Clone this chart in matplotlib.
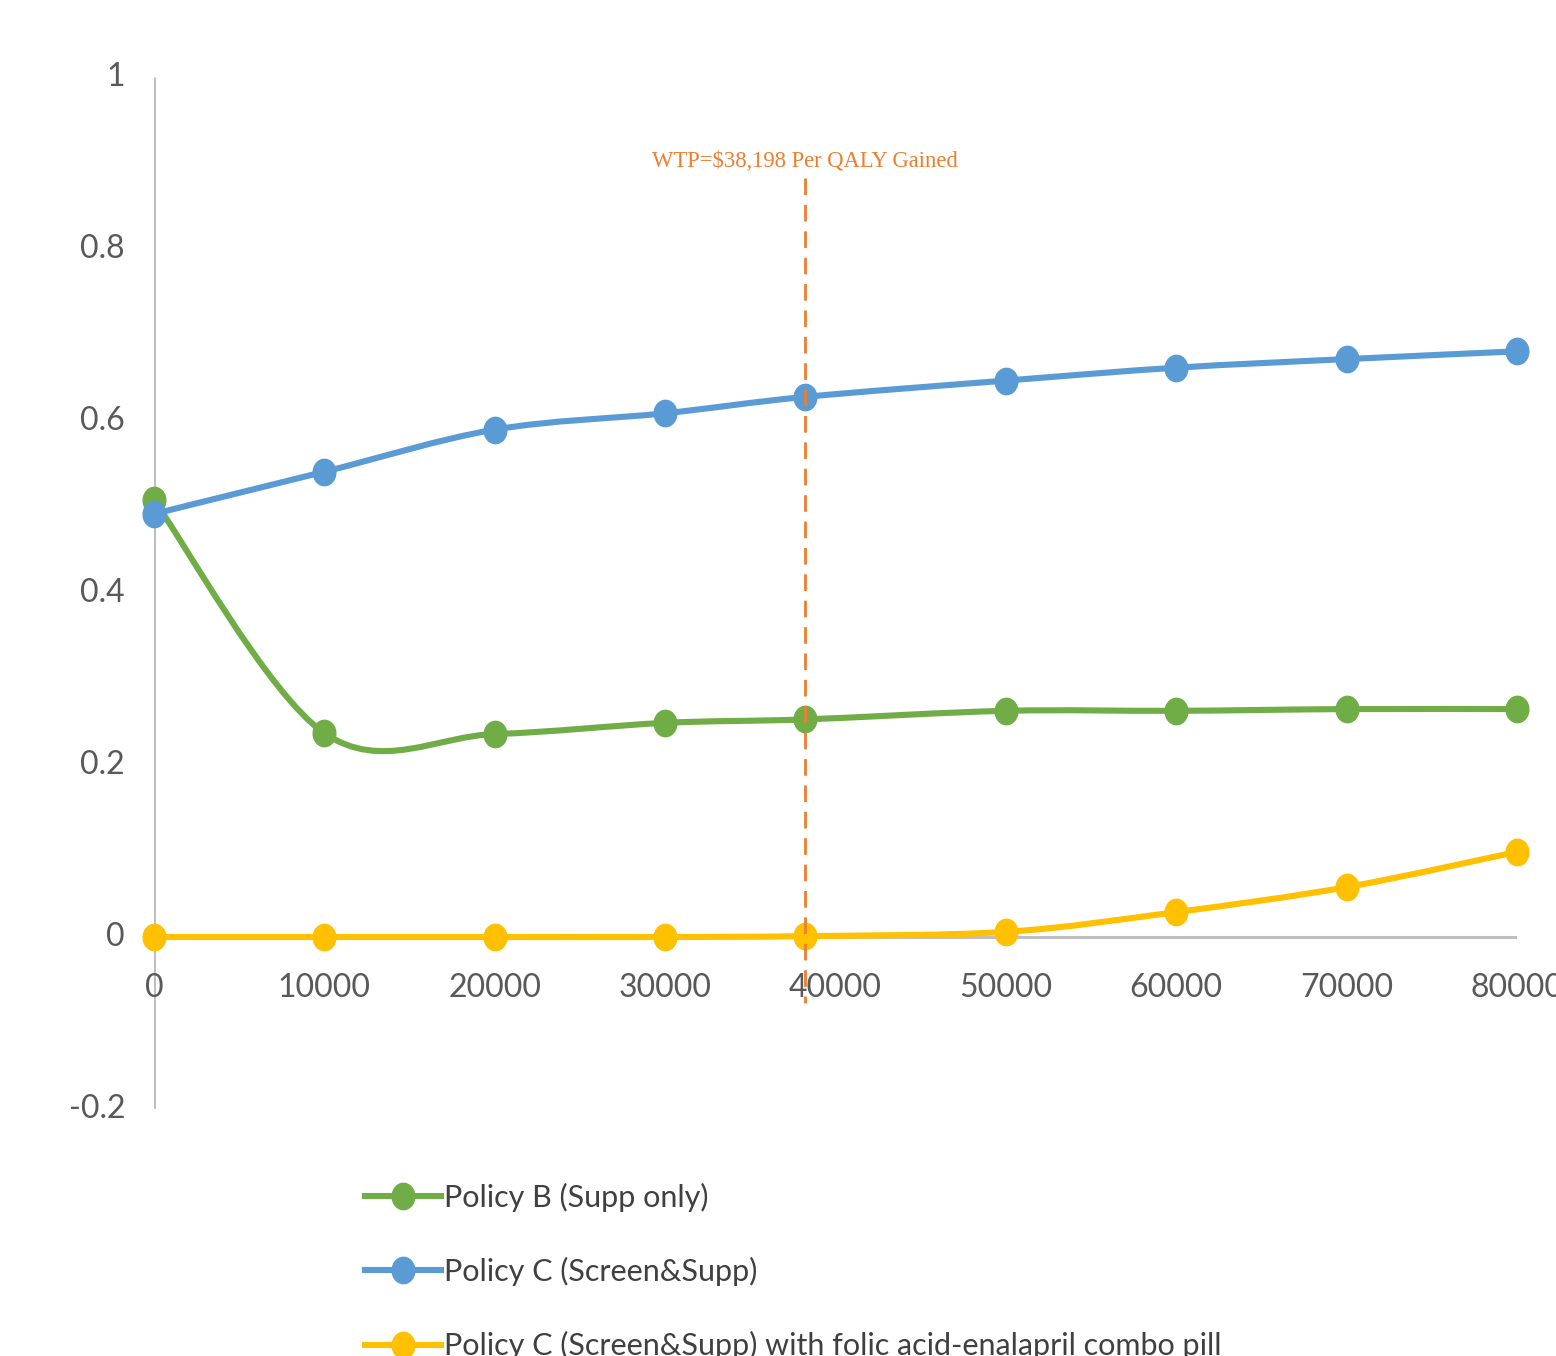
import numpy as np
import matplotlib
matplotlib.use("Agg")
import matplotlib.pyplot as plt
from matplotlib.path import Path
from matplotlib.patches import PathPatch
from matplotlib.lines import Line2D

# willingness-to-pay thresholds ($ per QALY)
wtp = [0, 10000, 20000, 30000, 38198, 50000, 60000, 70000, 80000]
policy_b = [0.508, 0.237, 0.236, 0.249, 0.253, 0.263, 0.263, 0.265, 0.265]
policy_c = [0.492, 0.541, 0.590, 0.609, 0.628, 0.647, 0.662, 0.672, 0.681]
policy_c_pill = [0.0, 0.0, 0.0, 0.0, 0.001, 0.006, 0.029, 0.058, 0.099]

labels = ["Policy B (Supp only)",
          "Policy C (Screen&Supp)",
          "Policy C (Screen&Supp) with folic acid-enalapril combo pill"]
colors = ["#70AD47", "#5B9BD5", "#FFC000"]

wtp_cut = 38198
wtp_line = [0.883, -0.077]
wtp_text = "WTP=$38,198 Per QALY Gained"

xticks = [0, 10000, 20000, 30000, 40000, 50000, 60000, 70000, 80000]
yticks = [-0.2, 0, 0.2, 0.4, 0.6, 0.8, 1]
ytick_labels = ["-0.2", "0", "0.2", "0.4", "0.6", "0.8", "1"]

plt.rcParams["font.family"] = ["Lato", "DejaVu Sans"]

TXT = "#595959"
AXC = "#BFBFBF"


def smooth_path(x, y):
    # Catmull-Rom style bezier, like spreadsheet "smoothed line"
    pts = np.column_stack([x, y]).astype(float)
    n = len(pts)
    verts = [pts[0]]
    codes = [Path.MOVETO]
    for i in range(n - 1):
        p0 = pts[i - 1] if i > 0 else pts[i]
        p3 = pts[i + 2] if i + 2 < n else pts[i + 1]
        c1 = pts[i] + (pts[i + 1] - p0) / 6
        c2 = pts[i + 1] - (p3 - pts[i]) / 6
        verts += [c1, c2, pts[i + 1]]
        codes += [Path.CURVE4] * 3
    return Path(verts, codes)


# slightly tall ellipse marker
t = np.linspace(0, 2 * np.pi, 40)
ell = Path(np.column_stack([0.86 * np.cos(t), np.sin(t)]), closed=True)

fig = plt.figure(figsize=(15.56, 13.56), dpi=100)
ax = fig.add_axes([154 / 1556, 1 - 1109 / 1356, (1517 - 154) / 1556, (1109 - 77) / 1356])
ax.set_xlim(0, 80000)
ax.set_ylim(-0.2, 1)
for s in ax.spines.values():
    s.set_visible(False)
ax.set_xticks([])
ax.set_yticks([])

# axes drawn through the origin
ax.plot([0, 0], [-0.2, 1], color=AXC, lw=2.2, zorder=1, solid_capstyle="butt")
ax.plot([0, 80000], [0, 0], color=AXC, lw=2.2, zorder=1, solid_capstyle="butt")

for yv, lab in zip(yticks, ytick_labels):
    ax.text(-1700, yv, lab, ha="right", va="center", fontsize=23, color=TXT)
for xv in xticks:
    ax.text(xv, -0.059, str(xv), ha="center", va="center", fontsize=23, color=TXT)

for ys, col in zip([policy_b, policy_c, policy_c_pill], colors):
    ax.add_patch(PathPatch(smooth_path(wtp, ys), fill=False, edgecolor=col,
                           lw=4.4, capstyle="round", zorder=3))
    ax.plot(wtp, ys, ls="none", marker=ell, ms=19, color=col, zorder=4, clip_on=False)

ax.plot([wtp_cut, wtp_cut], wtp_line, color="#ED7D31", lw=2, ls=(0, (6, 3.5)), zorder=6)
ax.text(wtp_cut, 0.902, wtp_text, ha="center", va="center", fontsize=16.3,
        color="#ED7D31", family=["Liberation Serif", "DejaVu Serif"])

handles = [Line2D([], [], color=c, lw=4.4, marker=ell, ms=19) for c in colors]
fig.legend(handles, labels, loc="upper left", bbox_to_anchor=(337 / 1556, 1 - 1155 / 1356),
           frameon=False, fontsize=22, labelcolor="#404040", handlelength=2.5,
           handletextpad=0.1, labelspacing=1.48)

fig.savefig("out.png", dpi=100)
